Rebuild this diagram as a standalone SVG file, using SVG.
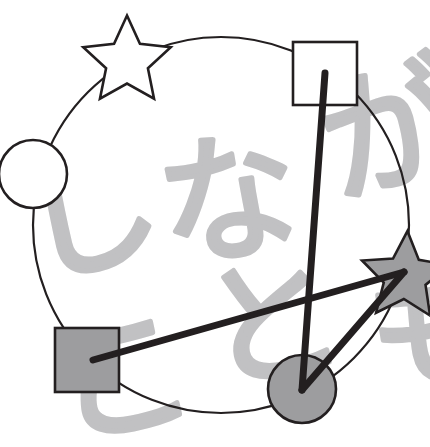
<svg xmlns="http://www.w3.org/2000/svg" width="430" height="447" viewBox="0 0 430 447">
<style>
.bg{fill:#fff}
.txt{font-family:"Noto Sans CJK JP","Noto Sans CJK SC",sans-serif;font-size:140px;font-weight:400;fill:#c1c1c3;stroke:#c1c1c3;stroke-width:5;stroke-linejoin:round}
.ring{fill:none;stroke:#231f20;stroke-width:2.2}
.nw{fill:#fff;stroke:#231f20;stroke-width:2.6}
.ng{fill:#9d9d9f;stroke:#231f20;stroke-width:2.6}
.edge{stroke:#231f20;stroke-width:7;stroke-linecap:round;fill:none}
</style>
<defs>
<path id="star" d="M0,-46 L12.93,-17.8 L43.75,-14.21 L20.92,6.8 L27.04,37.21 L0,22 L-27.04,37.21 L-20.92,6.8 L-43.75,-14.21 L-12.93,-17.8 Z"/>
</defs>
<rect class="bg" width="430" height="447"/>
<g id="watermark">
<text class="txt" x="31.8 166.1 336" y="277.6 258.4 196" rotate="-13 -8 -15">しなが</text>
<text class="txt" x="65.6 214 380" y="440 386 388" rotate="-12 -12 -12">ことも</text>
</g>
<circle id="ring" class="ring" cx="221" cy="225" r="188"/>
<g id="star-white"><use href="#star" class="nw" transform="translate(127,61.5)"/></g>
<g id="square-white"><rect class="nw" x="293" y="42" width="64" height="63"/></g>
<g id="circle-white"><circle class="nw" cx="33" cy="174" r="34"/></g>
<g id="star-grey"><use href="#star" class="ng" transform="translate(405,277) rotate(3)"/></g>
<g id="square-grey"><rect class="ng" x="55" y="328" width="64" height="64"/></g>
<g id="circle-grey"><circle class="ng" cx="302" cy="389" r="34"/></g>
<g id="connectors">
<line class="edge" x1="325" y1="73" x2="302" y2="390"/>
<line class="edge" x1="93" y1="360" x2="404" y2="272"/>
<line class="edge" x1="302" y1="390" x2="404" y2="272"/>
</g>
</svg>
